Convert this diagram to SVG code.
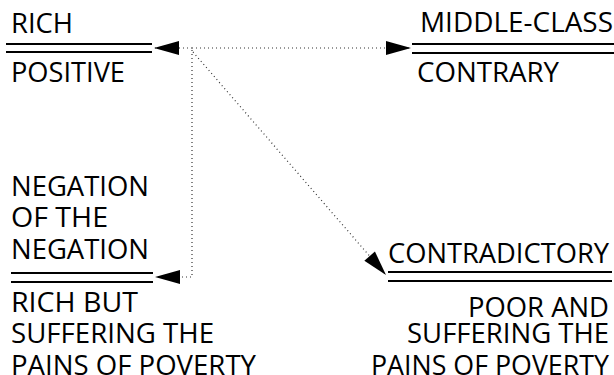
<svg xmlns="http://www.w3.org/2000/svg" width="614" height="375" viewBox="0 0 614 375">
<style>
text{font-family:"Open Sans","Noto Sans","Liberation Sans",sans-serif;font-size:28px;fill:#000}
.end{text-anchor:end}
.rule{stroke:#000;stroke-width:2;fill:none}
.dot{stroke:#333;stroke-width:1.2;stroke-dasharray:1 3;fill:none}
</style>
<defs>
<marker id="ah" markerUnits="userSpaceOnUse" markerWidth="30" markerHeight="18" viewBox="-27 -9 30 18" refX="0" refY="0" orient="auto">
<path d="M0,0 L-25,-7 L-25,7 Z" fill="#000"/>
</marker>
</defs>
<rect width="614" height="375" fill="#fff"/>
<g id="connectors">
<path class="dot" d="M192,48 H154" marker-end="url(#ah)"/>
<path class="dot" d="M192,48 H411" marker-end="url(#ah)"/>
<path class="dot" d="M192,50 V277 H155" marker-end="url(#ah)"/>
<path class="dot" d="M193,52 L386,275" marker-end="url(#ah)"/>
</g>
<g id="positive">
<text x="11" y="33" textLength="62" lengthAdjust="spacingAndGlyphs">RICH</text>
<line class="rule" x1="6" y1="44" x2="152" y2="44"/>
<line class="rule" x1="6" y1="52" x2="152" y2="52"/>
<text x="11" y="82" textLength="114" lengthAdjust="spacingAndGlyphs">POSITIVE</text>
</g>
<g id="contrary">
<text x="420" y="32" textLength="193" lengthAdjust="spacingAndGlyphs">MIDDLE-CLASS</text>
<line class="rule" x1="412" y1="44" x2="614" y2="44"/>
<line class="rule" x1="412" y1="53" x2="614" y2="53"/>
<text x="417" y="82" textLength="142" lengthAdjust="spacingAndGlyphs">CONTRARY</text>
</g>
<g id="negation">
<text x="11" y="196" textLength="138" lengthAdjust="spacingAndGlyphs">NEGATION</text>
<text x="11" y="227" textLength="97" lengthAdjust="spacingAndGlyphs">OF THE</text>
<text x="11" y="259" textLength="138" lengthAdjust="spacingAndGlyphs">NEGATION</text>
<line class="rule" x1="11" y1="273" x2="153" y2="273"/>
<line class="rule" x1="11" y1="282" x2="153" y2="282"/>
<text x="11" y="312" textLength="127" lengthAdjust="spacingAndGlyphs">RICH BUT</text>
<text x="11" y="343" textLength="203" lengthAdjust="spacingAndGlyphs">SUFFERING THE</text>
<text x="11" y="375" textLength="245" lengthAdjust="spacingAndGlyphs">PAINS OF POVERTY</text>
</g>
<g id="contradictory">
<text class="end" x="609" y="263" textLength="221" lengthAdjust="spacingAndGlyphs">CONTRADICTORY</text>
<line class="rule" x1="388" y1="272" x2="612" y2="272"/>
<line class="rule" x1="388" y1="281" x2="612" y2="281"/>
<text class="end" x="609" y="317" textLength="141" lengthAdjust="spacingAndGlyphs">POOR AND</text>
<text class="end" x="609" y="343" textLength="202" lengthAdjust="spacingAndGlyphs">SUFFERING THE</text>
<text class="end" x="609" y="375" textLength="238" lengthAdjust="spacingAndGlyphs">PAINS OF POVERTY</text>
</g>
</svg>
